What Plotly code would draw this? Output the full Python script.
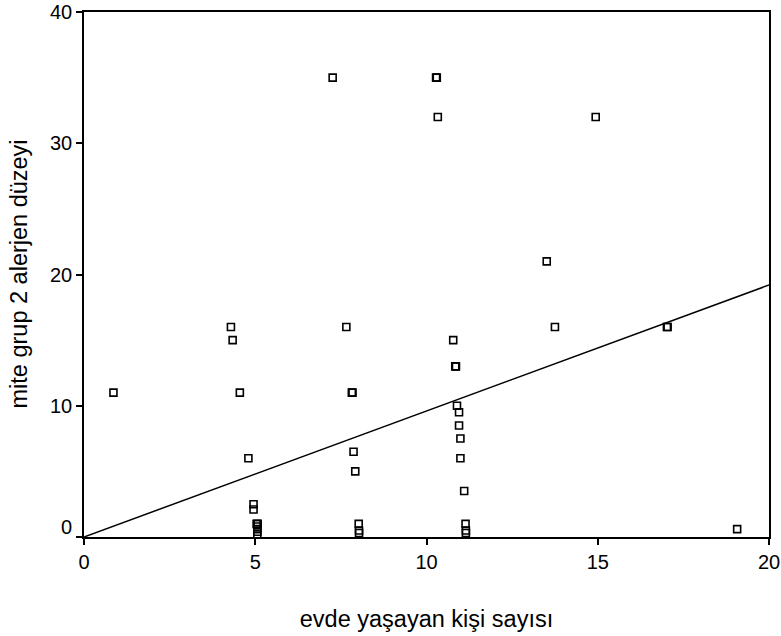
import plotly.graph_objects as go

# Data (jittered x positions as drawn)
kisi_sayisi = [7.26, 10.28, 10.30, 10.33, 14.94, 13.51,
               4.29, 7.66, 13.75, 17.02, 17.04,
               4.34, 10.78, 10.84, 10.86,
               0.86, 4.55, 7.82, 7.84,
               10.89, 10.95, 10.95, 10.99,
               4.80, 10.99, 7.87, 7.92, 11.10,
               4.95, 4.95,
               5.04, 5.07, 5.06, 5.06, 5.06, 5.06,
               8.02, 8.03, 8.03,
               11.14, 11.15, 11.15,
               19.07]
alerjen = [35.0, 35.0, 35.0, 32.0, 32.0, 21.0,
           16.0, 16.0, 16.0, 16.0, 16.0,
           15.0, 15.0, 13.0, 13.0,
           11.0, 11.0, 11.0, 11.0,
           10.0, 9.5, 8.5, 7.5,
           6.0, 6.0, 6.5, 5.0, 3.5,
           2.5, 2.1,
           1.0, 1.0, 0.8, 0.6, 0.4, 0.2,
           1.0, 0.5, 0.3,
           1.0, 0.5, 0.3,
           0.6]

fit_slope = 0.96
fit_intercept = 0.0
x_range = [0, 20]
y_range = [0, 40]
x_ticks = [0, 5, 10, 15, 20]
y_ticks = [0, 10, 20, 30, 40]
x_title = "evde yaşayan kişi sayısı"
y_title = "mite grup 2 alerjen düzeyi"

FONT = "Liberation Sans, Arial, sans-serif"

fit_x = list(x_range)
fit_y = [fit_intercept + fit_slope * v for v in fit_x]

fig = go.Figure()
fig.add_trace(go.Scatter(
    x=fit_x, y=fit_y, mode="lines",
    line=dict(color="black", width=1.5),
    showlegend=False, hoverinfo="skip", cliponaxis=False))
fig.add_trace(go.Scatter(
    x=kisi_sayisi, y=alerjen, mode="markers",
    marker=dict(symbol="square-open", size=7, color="black",
                line=dict(color="black", width=1.6)),
    showlegend=False, cliponaxis=False))

fig.update_layout(
    width=781, height=636,
    margin=dict(l=84, r=12, t=12, b=99, autoexpand=False),
    paper_bgcolor="white", plot_bgcolor="white",
    font=dict(family=FONT, color="black", size=20),
    xaxis=dict(
        range=x_range, tickvals=x_ticks, ticktext=[str(t) for t in x_ticks],
        showgrid=False, zeroline=False, automargin=False,
        showline=True, linecolor="black", linewidth=1.5, mirror=True,
        ticks="outside", ticklen=6, tickwidth=1.5, tickcolor="black",
        tickfont=dict(size=20, family=FONT, color="black"),
        title=dict(text=x_title,
                   font=dict(size=23.5, family=FONT, color="black"),
                   standoff=39),
    ),
    yaxis=dict(
        range=y_range, tickvals=y_ticks,
        ticktext=["" if t == 0 else str(t) for t in y_ticks],
        showgrid=False, zeroline=False, automargin=False,
        showline=True, linecolor="black", linewidth=1.5, mirror=True,
        ticks="outside", ticklen=6, tickwidth=1.5, tickcolor="black",
        tickfont=dict(size=20, family=FONT, color="black"),
    ),
    annotations=[
        dict(text="0", xref="paper", yref="y", x=0, y=y_ticks[0],
             xanchor="right", yanchor="middle", xshift=-10, yshift=10,
             showarrow=False, font=dict(size=20, family=FONT, color="black")),
        dict(text=y_title, xref="paper", yref="paper", x=0, y=0.5,
             xanchor="center", yanchor="middle", xshift=-66, textangle=-90,
             showarrow=False, font=dict(size=23.5, family=FONT, color="black")),
    ],
)

fig.write_html("out.html")
